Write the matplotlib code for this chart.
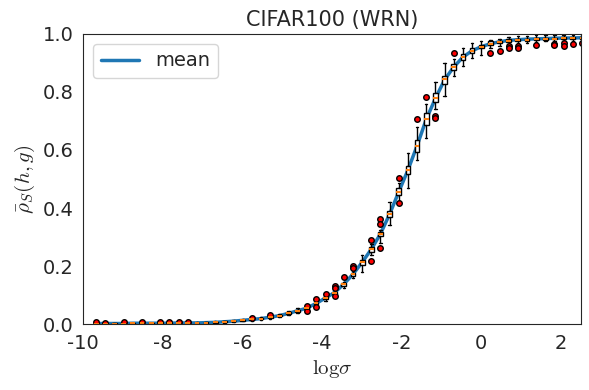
import matplotlib
matplotlib.use("Agg")
import matplotlib.pyplot as plt
import seaborn as sns

# log(sigma) positions of the boxes (sigma = 10^-4.2 ... 10^1.1)
log_sigma = [-9.67, -9.44, -9.21, -8.98, -8.75, -8.52, -8.29, -8.06, -7.83, -7.60,
             -7.37, -7.14, -6.91, -6.68, -6.45, -6.22, -5.99, -5.76, -5.53, -5.30,
             -5.07, -4.84, -4.61, -4.38, -4.15, -3.91, -3.68, -3.45, -3.22, -2.99,
             -2.76, -2.53, -2.30, -2.07, -1.84, -1.61, -1.38, -1.15, -0.92, -0.69,
             -0.46, -0.23, 0.00, 0.23, 0.46, 0.69, 0.92, 1.15, 1.38, 1.61,
             1.84, 2.07, 2.30, 2.53]

med = [0.002, 0.002, 0.002, 0.002, 0.003, 0.003, 0.003, 0.003, 0.003, 0.004,
       0.004, 0.004, 0.005, 0.006, 0.008, 0.010, 0.013, 0.016, 0.019, 0.024,
       0.029, 0.037, 0.046, 0.055, 0.071, 0.090, 0.108, 0.137, 0.171, 0.213,
       0.258, 0.310, 0.379, 0.456, 0.531, 0.614, 0.707, 0.780, 0.843, 0.885,
       0.920, 0.941, 0.955, 0.966, 0.972, 0.977, 0.978, 0.980, 0.981, 0.983,
       0.984, 0.985, 0.985, 0.986]

q1 = [0.001, 0.001, 0.001, 0.001, 0.002, 0.002, 0.002, 0.002, 0.002, 0.003,
      0.003, 0.003, 0.004, 0.005, 0.007, 0.009, 0.011, 0.014, 0.017, 0.022,
      0.027, 0.035, 0.043, 0.052, 0.068, 0.086, 0.104, 0.132, 0.165, 0.205,
      0.250, 0.302, 0.368, 0.445, 0.518, 0.594, 0.687, 0.764, 0.828, 0.876,
      0.910, 0.936, 0.950, 0.962, 0.968, 0.973, 0.975, 0.977, 0.978, 0.980,
      0.981, 0.982, 0.982, 0.983]

q3 = [0.003, 0.003, 0.003, 0.003, 0.004, 0.004, 0.004, 0.004, 0.004, 0.005,
      0.005, 0.005, 0.006, 0.007, 0.009, 0.011, 0.014, 0.017, 0.021, 0.026,
      0.031, 0.040, 0.049, 0.057, 0.074, 0.093, 0.112, 0.141, 0.176, 0.221,
      0.265, 0.318, 0.390, 0.468, 0.545, 0.634, 0.727, 0.796, 0.856, 0.897,
      0.930, 0.951, 0.962, 0.974, 0.976, 0.981, 0.982, 0.984, 0.985, 0.986,
      0.987, 0.988, 0.988, 0.989]

whislo = [0.000, 0.000, 0.000, 0.000, 0.001, 0.001, 0.001, 0.001, 0.001, 0.002,
          0.002, 0.002, 0.003, 0.003, 0.005, 0.007, 0.009, 0.012, 0.015, 0.019,
          0.024, 0.031, 0.038, 0.048, 0.064, 0.081, 0.100, 0.126, 0.158, 0.180,
          0.238, 0.280, 0.340, 0.425, 0.468, 0.566, 0.641, 0.740, 0.787, 0.856,
          0.890, 0.916, 0.928, 0.950, 0.958, 0.965, 0.968, 0.970, 0.972, 0.974,
          0.975, 0.976, 0.976, 0.977]

whishi = [0.004, 0.004, 0.004, 0.005, 0.005, 0.005, 0.005, 0.005, 0.006, 0.006,
          0.006, 0.007, 0.008, 0.009, 0.011, 0.013, 0.016, 0.019, 0.023, 0.028,
          0.034, 0.045, 0.055, 0.058, 0.077, 0.097, 0.116, 0.146, 0.184, 0.238,
          0.276, 0.325, 0.420, 0.485, 0.589, 0.680, 0.760, 0.833, 0.900, 0.914,
          0.951, 0.970, 0.974, 0.979, 0.984, 0.990, 0.992, 0.994, 0.995, 0.996,
          0.997, 0.998, 0.998, 0.998]

fliers = [[0.006], [0.005], [], [0.006], [], [0.006], [], [0.007], [0.006], [0.007],
          [0.007], [], [], [], [], [], [], [0.021], [], [0.031],
          [], [], [], [0.045, 0.062], [0.085, 0.058], [0.103], [0.131, 0.124, 0.096], [0.163], [0.200, 0.194], [],
          [0.289, 0.219], [0.363, 0.346, 0.263], [], [0.504, 0.416], [], [0.706], [0.783], [0.718, 0.709], [], [0.935],
          [], [], [], [0.933], [0.941], [0.958, 0.951], [0.960, 0.952], [], [0.962], [],
          [0.967, 0.962], [0.968, 0.958], [0.965], [0.970]]

mean = [0.002, 0.002, 0.002, 0.002, 0.003, 0.003, 0.003, 0.003, 0.003, 0.004,
        0.004, 0.004, 0.005, 0.006, 0.008, 0.010, 0.013, 0.016, 0.019, 0.024,
        0.029, 0.037, 0.046, 0.055, 0.071, 0.090, 0.109, 0.138, 0.172, 0.213,
        0.258, 0.311, 0.379, 0.456, 0.531, 0.615, 0.706, 0.778, 0.842, 0.886,
        0.920, 0.942, 0.956, 0.966, 0.973, 0.978, 0.980, 0.982, 0.983, 0.984,
        0.985, 0.986, 0.986, 0.987]

sns.set_style("white")
plt.rcParams["axes.unicode_minus"] = False
plt.rcParams["mathtext.fontset"] = "cm"

fig, ax = plt.subplots(figsize=(5.89, 3.9), dpi=100)
fig.subplots_adjust(left=0.141, right=0.986, top=0.913, bottom=0.169)

ax.plot(log_sigma, mean, color="#1f77b4", lw=2.5, label="mean", zorder=1)

stats = []
for i in range(len(log_sigma)):
    stats.append(dict(med=med[i], q1=q1[i], q3=q3[i], whislo=whislo[i],
                      whishi=whishi[i], fliers=fliers[i]))

ax.bxp(stats, positions=log_sigma, widths=0.12, manage_ticks=False,
       patch_artist=True,
       boxprops=dict(facecolor="white", edgecolor="black", lw=1),
       medianprops=dict(color="#ff7f0e", lw=1.5),
       whiskerprops=dict(color="black", lw=1),
       capprops=dict(color="black", lw=1),
       flierprops=dict(marker="o", markerfacecolor="red", markeredgecolor="black",
                       markersize=4, markeredgewidth=1))

ax.set_xlim(-10, 2.5)
ax.set_ylim(0, 1)
ax.set_xticks([-10, -8, -6, -4, -2, 0, 2])
ax.set_yticks([0.0, 0.2, 0.4, 0.6, 0.8, 1.0])
ax.set_yticklabels(["0.0", "0.2", "0.4", "0.6", "0.8", "1.0"])
ax.tick_params(labelsize=14)
ax.set_title("CIFAR100 (WRN)", fontsize=15)
ax.set_xlabel(r"$\mathrm{log}\sigma$", fontsize=15)
ax.set_ylabel(r"$\bar{\rho}_S(h,g)$", fontsize=15)
ax.legend(loc="upper left", fontsize=14)

fig.savefig("out.png", dpi=100)
